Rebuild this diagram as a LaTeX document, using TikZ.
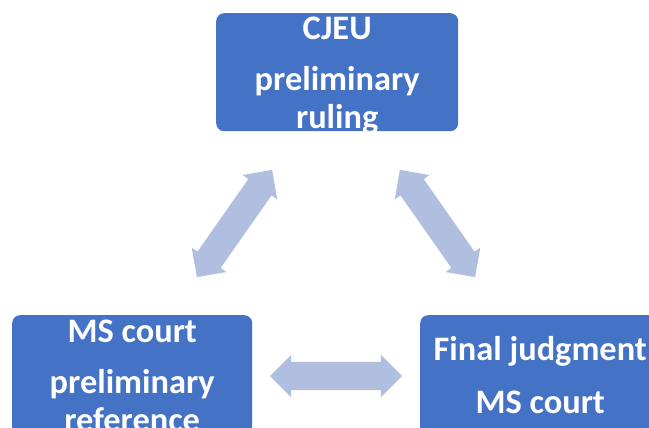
\documentclass[tikz,border=0pt]{standalone}
\usepackage{fontspec}
\setmainfont{Carlito}
\usetikzlibrary{shapes.arrows}
\definecolor{boxblue}{HTML}{4472C4}
\definecolor{arrblue}{HTML}{B0BEE0}
\tikzset{
  box/.style={fill=boxblue, rounded corners=8bp, draw=none, inner sep=0pt, minimum width=240bp, minimum height=142bp, anchor=north west},
  txt/.style={text=white, font=\fontsize{34.5}{40}\selectfont\bfseries, inner sep=0pt, anchor=base},
  dbl/.style={double arrow, fill=arrblue, draw=none, inner xsep=0pt, inner ysep=14bp, double arrow head extend=7bp, double arrow tip angle=90}
}
\begin{document}
\begin{tikzpicture}[x=1bp,y=1bp]
\useasboundingbox (0,0) rectangle (649,427);
% boxes
\node[box, minimum width=242bp, minimum height=118bp] (top) at (216,414) {};
\node[box] (left) at (12,112) {};
\node[box] (right) at (420,112) {};
% texts
\node[txt] (t1) at ([yshift=-26bp]top.north) {CJEU};
\node[txt] (t2) at ([yshift=-77bp]top.north) {preliminary};
\node[txt] (t3) at ([yshift=-115bp]top.north) {ruling};
\node[txt] (l1) at ([yshift=-27bp]left.north) {MS court};
\node[txt] (l2) at ([yshift=-78bp]left.north) {preliminary};
\node[txt] (l3) at ([yshift=-116bp]left.north) {reference};
\node[txt] (r1) at ([yshift=-45bp]right.north) {Final judgment};
\node[txt] (r2) at ([yshift=-98bp]right.north) {MS court};
% arrows
\node[dbl, minimum height=131bp, rotate=54.97] (a1) at (234.5,203.5) {};
\node[dbl, minimum height=131bp, rotate=-54.97] (a2) at (437.5,203.5) {};
\node[dbl, minimum height=132bp] (a3) at (336,51) {};
\end{tikzpicture}
\end{document}
